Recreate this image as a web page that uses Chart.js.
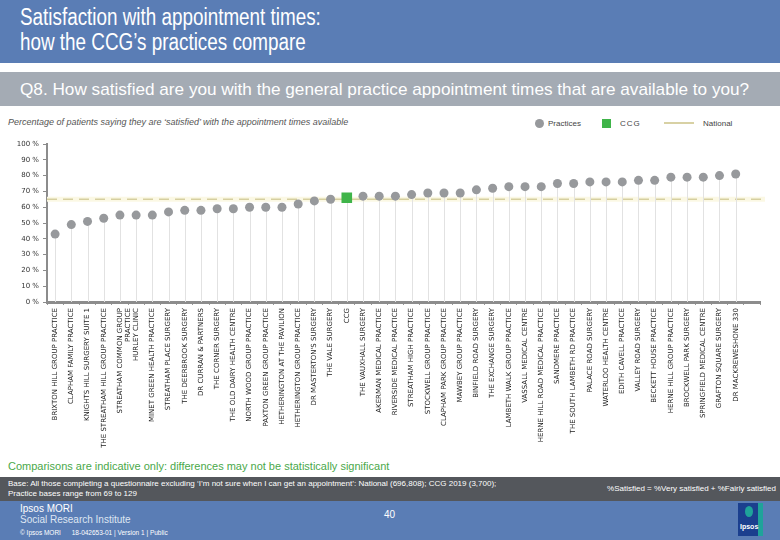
<!DOCTYPE html>
<html>
<head>
<meta charset="utf-8">
<script src="https://cdn.jsdelivr.net/npm/chart.js@4.4.1/dist/chart.umd.min.js"></script>
<style>
  body { margin: 0; width: 780px; height: 540px; position: relative; overflow: hidden; background: #fff; font-family: "Liberation Sans", Arial, sans-serif; }
  .abs { position: absolute; white-space: nowrap; }
  #head { left: 0; top: 0; width: 780px; height: 63px; background: #5a7db5; }
  #title { left: 20px; top: 5px; color: #fff; font-size: 23px; line-height: 25px; transform: scaleX(0.82); transform-origin: left top; }
  #qband { left: 0; top: 72px; width: 780px; height: 34px; background: #a4abb4; }
  #q { left: 20px; top: 80px; color: #fff; font-size: 17px; transform: scaleX(1.01); transform-origin: left top; }
  #sub { left: 8px; top: 117px; color: #555; font-size: 9px; font-style: italic; }
  .leg { top: 119px; font-size: 8px; color: #444; }
  #chartWrap { position: absolute; left: 0; top: 128px; width: 780px; height: 327px; }
  #note { left: 8px; top: 460px; color: #4aa84a; font-size: 11px; }
  #base { left: 0; top: 477px; width: 780px; height: 24px; background: #54575c; }
  .wt { color: #fff; font-size: 8px; }
  #foot { left: 0; top: 501px; width: 780px; height: 39px; background: #5a7db5; }
</style>
</head>
<body>
<div id="head" class="abs"></div>
<div id="title" class="abs">Satisfaction with appointment times:<br>how the CCG’s practices compare</div>
<div id="qband" class="abs"></div>
<div id="q" class="abs">Q8. How satisfied are you with the general practice appointment times that are available to you?</div>
<div id="sub" class="abs">Percentage of patients saying they are ‘satisfied’ with the appointment times available</div>

<div class="abs" style="left:535px;top:119px;width:9px;height:9px;border-radius:50%;background:#97999c"></div>
<div class="abs leg" style="left:548px">Practices</div>
<div class="abs" style="left:602px;top:119px;width:9px;height:9px;background:#3fb449"></div>
<div class="abs leg" style="left:620px;letter-spacing:1px">CCG</div>
<div class="abs" style="left:664px;top:122px;width:30px;height:2px;background:#d8d1a4"></div>
<div class="abs leg" style="left:703px">National</div>

<div id="chartWrap"><canvas id="myChart"></canvas></div>

<div id="note" class="abs">Comparisons are indicative only: differences may not be statistically significant</div>
<div id="base" class="abs"></div>
<div class="abs wt" style="left:8px;top:479px">Base: All those completing a questionnaire excluding ‘I’m not sure when I can get an appointment’: National (696,808); CCG 2019 (3,700);</div>
<div class="abs wt" style="left:8px;top:489px">Practice bases range from 69 to 129</div>
<div class="abs wt" style="right:4px;top:484px">%Satisfied = %Very satisfied + %Fairly satisfied</div>
<div id="foot" class="abs"></div>
<div class="abs" style="left:20px;top:503px;color:#fff;font-size:10px">Ipsos MORI</div>
<div class="abs" style="left:20px;top:514px;color:#dfe6f2;font-size:10px">Social Research Institute</div>
<div class="abs" style="left:20px;top:529px;color:#fff;font-size:6.5px">© Ipsos MORI &nbsp;&nbsp;&nbsp;&nbsp; 18-042653-01 | Version 1 | Public</div>
<div class="abs" style="left:384px;top:509px;color:#fff;font-size:10px">40</div>
<div class="abs" style="left:738px;top:503px;width:22px;height:33px;background:#1b3f8e"></div>
<div class="abs" style="left:758px;top:503px;width:5px;height:33px;background:#1fa39a"></div>
<div class="abs" style="left:745px;top:506px;width:8px;height:11px;border-radius:50%;background:#1fa39a"></div>
<div class="abs" style="left:740px;top:523px;color:#fff;font-size:7px;font-weight:bold">Ipsos</div>

<script>
// categories, sorted low -> high, CCG sits in the middle
const practices = [
  'BRIXTON HILL GROUP PRACTICE',
  'CLAPHAM FAMILY PRACTICE',
  'KNIGHTS HILL SURGERY SUITE 1',
  'THE STREATHAM HILL GROUP PRACTICE',
  ['STREATHAM COMMON GROUP', 'PRACTICE'],
  'HURLEY CLINIC',
  'MINET GREEN HEALTH PRACTICE',
  'STREATHAM PLACE SURGERY',
  'THE DEERBROOK SURGERY',
  'DR CURRAN & PARTNERS',
  'THE CORNER SURGERY',
  'THE OLD DAIRY HEALTH CENTRE',
  'NORTH WOOD GROUP PRACTICE',
  'PAXTON GREEN GROUP PRACTICE',
  'HETHERINGTON AT THE PAVILION',
  'HETHERINGTON GROUP PRACTICE',
  "DR MASTERTON'S SURGERY",
  'THE VALE SURGERY',
  'CCG',
  'THE VAUXHALL SURGERY',
  'AKERMAN MEDICAL PRACTICE',
  'RIVERSIDE MEDICAL PRACTICE',
  'STREATHAM HIGH PRACTICE',
  'STOCKWELL GROUP PRACTICE',
  'CLAPHAM PARK GROUP PRACTICE',
  'MAWBEY GROUP PRACTICE',
  'BINFIELD ROAD SURGERY',
  'THE EXCHANGE SURGERY',
  'LAMBETH WALK GROUP PRACTICE',
  'VASSALL MEDICAL CENTRE',
  'HERNE HILL ROAD MEDICAL PRACTICE',
  'SANDMERE PRACTICE',
  'THE SOUTH LAMBETH RD PRACTICE',
  'PALACE ROAD SURGERY',
  'WATERLOO HEALTH CENTRE',
  'EDITH CAVELL PRACTICE',
  'VALLEY ROAD SURGERY',
  'BECKETT HOUSE PRACTICE',
  'HERNE HILL GROUP PRACTICE',
  'BROCKWELL PARK SURGERY',
  'SPRINGFIELD MEDICAL CENTRE',
  'GRAFTON SQUARE SURGERY',
  'DR MACKREWESHONE 330',
  ''  // empty slot at the end of the axis
]

// % satisfied per category (CCG slot left out here)
const practiceValues = [43, 49, 51, 53, 55, 55, 55, 57, 58, 58, 59, 59, 60, 60, 60, 62, 64, 65,
  null, 67, 67, 67, 68, 69, 69, 69, 71, 72, 73, 73, 73, 75, 75, 76, 76, 76, 77, 77, 79, 79, 79, 80, 81, null]
const ccgIndex = 18
const ccgValue = 66
const nationalValue = 65

const yTicks = [0, 10, 20, 30, 40, 50, 60, 70, 80, 90, 100]

const ccgValues = practices.map((p, i) => i === ccgIndex ? ccgValue : null)

// line from each point down to the x axis
const dropLines = {
  id: 'dropLines',
  beforeDatasetsDraw(chart) {
    const { ctx, chartArea, scales } = chart
    ctx.save()
    ctx.strokeStyle = '#e2e2e2'
    ctx.lineWidth = 1
    practices.forEach((p, i) => {
      const v = practiceValues[i] !== null ? practiceValues[i] : ccgValues[i]
      if (v === null) return
      const x = Math.round(scales.x.getPixelForValue(i)) + 0.5
      ctx.beginPath()
      ctx.moveTo(x, scales.y.getPixelForValue(v))
      ctx.lineTo(x, chartArea.bottom)
      ctx.stroke()
    })
    ctx.restore()
  }
}

// dashed national average across the plot
const nationalLine = {
  id: 'nationalLine',
  beforeDatasetsDraw(chart) {
    const { ctx, chartArea, scales } = chart
    const y = scales.y.getPixelForValue(nationalValue)
    ctx.save()
    ctx.strokeStyle = '#fbf8e4'
    ctx.lineWidth = 5
    ctx.beginPath()
    ctx.moveTo(chartArea.left, y)
    ctx.lineTo(chartArea.right + 5, y)
    ctx.stroke()
    ctx.strokeStyle = '#d6cf9f'
    ctx.lineWidth = 1.5
    ctx.setLineDash([10, 6])
    ctx.beginPath()
    ctx.moveTo(chartArea.left, y)
    ctx.lineTo(chartArea.right + 5, y)
    ctx.stroke()
    ctx.restore()
  }
}

const ctx = document.getElementById('myChart')

new Chart(ctx, {
  type: 'line',
  data: {
    labels: practices,
    datasets: [
      {
        label: 'Practices',
        data: practiceValues,
        showLine: false,
        pointRadius: 4.5,
        pointBackgroundColor: '#97999c',
        pointBorderWidth: 0
      },
      {
        label: 'CCG',
        data: ccgValues,
        showLine: false,
        pointStyle: 'rect',
        pointRadius: 7.5,
        pointBackgroundColor: '#3fb449',
        pointBorderWidth: 0
      }
    ]
  },
  options: {
    responsive: true,
    maintainAspectRatio: false,
    animation: false,
    layout: { padding: { top: 16, right: 20, left: 0, bottom: 0 } },
    plugins: { legend: { display: false }, tooltip: { enabled: false } },
    scales: {
      x: {
        offset: true,
        grid: { drawOnChartArea: false, offset: true, tickLength: 3, color: '#9a9a9a', lineWidth: 1 },
        border: { display: true, color: '#8c8c8c', width: 3 },
        afterFit: (scale) => { scale.height = 153 },
        ticks: {
          autoSkip: false,
          minRotation: 90,
          maxRotation: 90,
          padding: 3,
          color: '#222',
          font: { family: 'DejaVu Sans', size: 7 }
        }
      },
      y: {
        min: 0,
        max: 100,
        afterFit: (scale) => { scale.width = 47 },
        afterBuildTicks: (scale) => { scale.ticks = yTicks.map(v => ({ value: v })) },
        grid: { drawOnChartArea: false, tickLength: 4, color: '#8c8c8c' },
        border: { display: true, color: '#8c8c8c', width: 2 },
        ticks: {
          padding: 4,
          color: '#333',
          font: { family: 'DejaVu Sans', size: 7 },
          callback: (v) => v + ' %'
        }
      }
    }
  },
  plugins: [nationalLine, dropLines]
})
</script>
</body>
</html>
